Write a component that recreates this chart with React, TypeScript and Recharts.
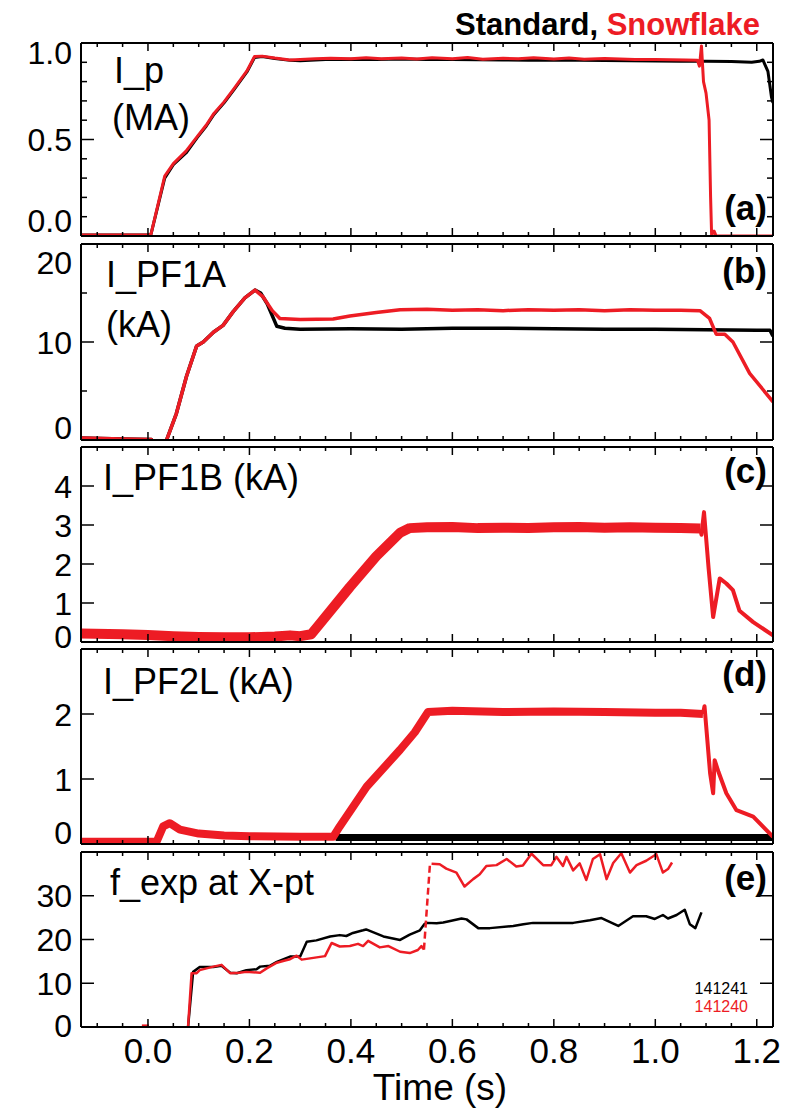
import React from "react";
import { LineChart, Line, XAxis, YAxis } from "recharts";

const FONT = "'Liberation Sans', Arial, Helvetica, sans-serif";
const RED = "#ED1C24";
const BLACK = "#000000";

// shared time axis
const X_DOMAIN: [number, number] = [-0.132, 1.232];
const xTicks = [-0.1, -0.05, 0, 0.05, 0.1, 0.15, 0.2, 0.25, 0.3, 0.35, 0.4, 0.45, 0.5, 0.55, 0.6, 0.65, 0.7, 0.75, 0.8, 0.85, 0.9, 0.95, 1.0, 1.05, 1.1, 1.15, 1.2];
const xTickLabels: Record<string, string> = { "0": "0.0", "0.2": "0.2", "0.4": "0.4", "0.6": "0.6", "0.8": "0.8", "1": "1.0", "1.2": "1.2" };

// (a) I_p (MA)
const ipStd = [[-0.132, 0.005], [0.0, 0.005], [0.006, 0.01], [0.033, 0.3], [0.05, 0.37], [0.075, 0.43], [0.097, 0.51], [0.115, 0.57], [0.13, 0.63], [0.15, 0.69], [0.17, 0.76], [0.195, 0.85], [0.21, 0.925], [0.225, 0.93], [0.25, 0.92], [0.28, 0.91], [0.3, 0.908], [0.35, 0.914], [0.4, 0.916], [0.45, 0.914], [0.5, 0.917], [0.55, 0.915], [0.6, 0.914], [0.65, 0.913], [0.7, 0.912], [0.75, 0.911], [0.8, 0.91], [0.85, 0.91], [0.9, 0.909], [0.95, 0.908], [1.0, 0.907], [1.05, 0.905], [1.1, 0.905], [1.15, 0.904], [1.19, 0.9], [1.205, 0.905], [1.212, 0.912], [1.222, 0.853], [1.229, 0.72], [1.232, 0.69]];
const ipSnow = [[-0.132, 0.005], [0.0, 0.005], [0.006, 0.01], [0.033, 0.31], [0.05, 0.375], [0.075, 0.44], [0.097, 0.515], [0.115, 0.575], [0.13, 0.635], [0.15, 0.695], [0.17, 0.765], [0.195, 0.855], [0.21, 0.93], [0.225, 0.932], [0.25, 0.922], [0.28, 0.912], [0.3, 0.915], [0.33, 0.918], [0.36, 0.921], [0.4, 0.919], [0.43, 0.924], [0.46, 0.918], [0.5, 0.922], [0.53, 0.917], [0.56, 0.923], [0.6, 0.918], [0.63, 0.925], [0.66, 0.916], [0.7, 0.921], [0.73, 0.918], [0.76, 0.924], [0.8, 0.917], [0.83, 0.922], [0.86, 0.916], [0.9, 0.92], [0.93, 0.917], [0.96, 0.915], [1.0, 0.914], [1.03, 0.913], [1.06, 0.912], [1.083, 0.91], [1.087, 0.88], [1.091, 0.985], [1.095, 0.8], [1.1, 0.74], [1.106, 0.6], [1.109, 0.2], [1.111, 0.005], [1.116, 0.025], [1.12, 0.0], [1.232, 0.0]];

// (b) I_PF1A (kA)
const pf1aStd = [[-0.132, 0.2], [-0.05, 0.1], [0.007, 0.05], [0.012, -1.5], [0.032, -1.5], [0.037, 0.05], [0.056, 2.7], [0.076, 6.5], [0.096, 9.6], [0.109, 10.0], [0.129, 11.0], [0.148, 11.7], [0.168, 13.1], [0.191, 14.5], [0.211, 15.3], [0.222, 15.0], [0.235, 13.9], [0.254, 11.6], [0.27, 11.4], [0.3, 11.3], [0.4, 11.35], [0.5, 11.3], [0.6, 11.4], [0.7, 11.4], [0.8, 11.35], [0.9, 11.3], [1.0, 11.3], [1.1, 11.25], [1.2, 11.2], [1.226, 11.2], [1.232, 10.6]];
const pf1aSnow = [[-0.132, 0.2], [-0.05, 0.1], [0.007, 0.05], [0.012, -1.5], [0.032, -1.5], [0.037, 0.05], [0.056, 2.7], [0.076, 6.5], [0.096, 9.6], [0.109, 10.0], [0.129, 11.0], [0.148, 11.7], [0.168, 13.1], [0.191, 14.5], [0.211, 15.3], [0.227, 14.6], [0.245, 13.2], [0.26, 12.4], [0.3, 12.3], [0.365, 12.35], [0.398, 12.65], [0.45, 13.0], [0.497, 13.3], [0.55, 13.35], [0.6, 13.25], [0.65, 13.3], [0.7, 13.2], [0.75, 13.3], [0.8, 13.25], [0.85, 13.3], [0.9, 13.2], [0.95, 13.3], [1.0, 13.25], [1.05, 13.25], [1.088, 13.2], [1.107, 12.4], [1.12, 10.8], [1.137, 10.8], [1.153, 10.0], [1.186, 6.8], [1.232, 3.9]];

// (c) I_PF1B (kA)
const pf1bSnow = [[-0.132, 0.22], [-0.05, 0.2], [0.0, 0.18], [0.05, 0.15], [0.1, 0.13], [0.15, 0.12], [0.2, 0.12], [0.25, 0.14], [0.28, 0.17], [0.3, 0.15], [0.322, 0.2], [0.339, 0.47], [0.398, 1.41], [0.45, 2.2], [0.497, 2.8], [0.516, 2.92], [0.55, 2.94], [0.6, 2.95], [0.65, 2.92], [0.7, 2.93], [0.75, 2.92], [0.8, 2.94], [0.85, 2.95], [0.9, 2.93], [0.95, 2.94], [1.0, 2.93], [1.05, 2.92], [1.089, 2.91]];
const pf1bSnowEnd = [[1.089, 2.91], [1.091, 2.75], [1.096, 3.33], [1.105, 1.9], [1.114, 0.64], [1.127, 1.63], [1.14, 1.5], [1.153, 1.33], [1.166, 0.8], [1.193, 0.51], [1.232, 0.17]];

// (d) I_PF2L (kA)
const pf2lStdEarly = [[-0.132, 0.03], [0.017, 0.03], [0.03, 0.3], [0.045, 0.33], [0.065, 0.22], [0.1, 0.16], [0.2, 0.13], [0.3, 0.11], [0.37, 0.1]];
const pf2lStdLate = [[0.37, 0.1], [0.5, 0.1], [0.7, 0.1], [0.9, 0.1], [1.1, 0.1], [1.232, 0.1]];
const pf2lSnow = [[-0.132, 0.035], [0.017, 0.035], [0.03, 0.27], [0.043, 0.32], [0.063, 0.22], [0.1, 0.16], [0.15, 0.13], [0.2, 0.12], [0.3, 0.11], [0.365, 0.11], [0.378, 0.27], [0.431, 0.88], [0.497, 1.45], [0.526, 1.72], [0.552, 2.03], [0.6, 2.05], [0.7, 2.03], [0.8, 2.04], [0.9, 2.03], [1.0, 2.02], [1.05, 2.02], [1.094, 2.0]];
const pf2lSnowEnd = [[1.094, 2.0], [1.097, 2.12], [1.108, 1.09], [1.114, 0.78], [1.117, 1.29], [1.125, 1.1], [1.14, 0.78], [1.16, 0.52], [1.193, 0.42], [1.232, 0.11]];

// (e) f_exp at X-pt
const fexpStd = [[0.079, 0], [0.089, 12.6], [0.102, 13.7], [0.129, 13.7], [0.145, 14.0], [0.162, 12.4], [0.175, 12.3], [0.194, 13.0], [0.214, 13.2], [0.221, 13.8], [0.24, 14.0], [0.254, 14.9], [0.28, 16.1], [0.3, 16.1], [0.313, 19.5], [0.332, 19.8], [0.359, 20.7], [0.378, 21.0], [0.391, 20.8], [0.404, 21.5], [0.424, 22.1], [0.43, 22.3], [0.464, 20.7], [0.497, 19.9], [0.516, 21.1], [0.536, 22.1], [0.544, 23.4], [0.549, 23.8], [0.569, 23.7], [0.582, 23.9], [0.598, 24.3], [0.618, 24.8], [0.628, 24.6], [0.651, 22.6], [0.674, 22.6], [0.72, 23.1], [0.74, 23.5], [0.759, 23.8], [0.798, 23.8], [0.838, 23.8], [0.871, 24.4], [0.894, 24.9], [0.927, 23.1], [0.956, 25.3], [0.982, 25.3], [0.999, 24.7], [1.015, 25.6], [1.025, 24.8], [1.042, 25.6], [1.058, 26.8], [1.068, 23.5], [1.079, 22.6], [1.091, 26.2]];
const fexpSnowDot = [[-0.012, 0.25], [0.002, 0.25]];
const fexpSnowA = [[0.079, 0], [0.086, 12.3], [0.096, 12.3], [0.102, 13.0], [0.129, 13.8], [0.145, 14.2], [0.162, 12.3], [0.18, 12.4], [0.194, 12.6], [0.221, 12.4], [0.234, 13.4], [0.254, 14.7], [0.27, 15.2], [0.28, 15.5], [0.293, 16.3], [0.303, 15.4], [0.326, 15.8], [0.349, 16.2], [0.362, 19.2], [0.378, 18.4], [0.398, 18.5], [0.414, 19.0], [0.424, 18.5], [0.434, 19.7], [0.457, 18.2], [0.474, 18.5], [0.497, 17.2], [0.516, 16.9], [0.532, 17.6], [0.539, 18.5], [0.544, 17.7]];
const fexpSnowJump = [[0.544, 17.7], [0.556, 37.5]];
const fexpSnowB = [[0.559, 37.3], [0.575, 37.2], [0.588, 36.2], [0.608, 35.3], [0.624, 32.1], [0.641, 33.8], [0.654, 34.9], [0.667, 36.8], [0.687, 37.0], [0.707, 38.4], [0.726, 36.7], [0.739, 36.9], [0.756, 39.6], [0.779, 37.0], [0.795, 37.0], [0.805, 38.9], [0.818, 36.8], [0.825, 38.9], [0.838, 35.8], [0.851, 37.4], [0.864, 33.6], [0.877, 38.4], [0.891, 39.5], [0.904, 33.8], [0.917, 37.5], [0.933, 39.7], [0.95, 35.3], [0.963, 37.0], [0.982, 38.0], [1.002, 39.5], [1.015, 35.3], [1.025, 36.1], [1.033, 37.6]];

// y ticks per panel
const ticksA = [0, 0.1, 0.2, 0.3, 0.4, 0.5, 0.6, 0.7, 0.8, 0.9, 1.0];
const labelsA: Record<string, string> = { "0": "0.0", "0.5": "0.5", "1": "1.0" };
const ticksB = [0, 5, 10, 15, 20];
const labelsB: Record<string, string> = { "0": "0", "10": "10", "20": "20" };
const ticksC = [0, 1, 2, 3, 4, 5];
const labelsC: Record<string, string> = { "0": "0", "1": "1", "2": "2", "3": "3", "4": "4" };
const ticksD = [0, 1, 2, 3];
const labelsD: Record<string, string> = { "0": "0", "1": "1", "2": "2" };
const ticksE = [0, 10, 20, 30, 40];
const labelsE: Record<string, string> = { "0": "0", "10": "10", "20": "20", "30": "30" };

const toRows = (arr: number[][]) => arr.map(([t, v]) => ({ t, v }));

function makeYTick(side: "left" | "right", labels: Record<string, string>, shifts: Record<string, number>) {
  return (props: any) => {
    const { x, y, payload } = props;
    const key = String(payload.value);
    const label = labels[key];
    const len = label !== undefined ? 13 : 6;
    const dir = side === "left" ? 1 : -1;
    return (
      <g>
        <line x1={x} y1={y} x2={x + dir * len} y2={y} stroke={BLACK} strokeWidth={1.5} />
        {side === "left" && label !== undefined ? (
          <text x={x - 9} y={y + (shifts[key] || 0) + 11.5} textAnchor="end" fontSize={32} fontFamily={FONT} fill={BLACK}>
            {label}
          </text>
        ) : null}
      </g>
    );
  };
}

function makeXTick(side: "top" | "bottom", showLabels: boolean) {
  return (props: any) => {
    const { x, y, payload } = props;
    const key = String(payload.value);
    const label = xTickLabels[key];
    const len = label !== undefined ? 8 : 4;
    const dir = side === "bottom" ? -1 : 1;
    return (
      <g>
        <line x1={x} y1={y} x2={x} y2={y + dir * len} stroke={BLACK} strokeWidth={1.5} />
        {showLabels && label !== undefined ? (
          <text x={x} y={y + 36} textAnchor="middle" fontSize={35} fontFamily={FONT} fill={BLACK}>
            {label}
          </text>
        ) : null}
      </g>
    );
  };
}

type Series = { data: number[][]; color: string; width: number; dash?: string };

function Panel(props: {
  top: number;
  bottom: number;
  domain: [number, number];
  yTicks: number[];
  yLabels: Record<string, string>;
  shifts: Record<string, number>;
  series: Series[];
  xLabels?: boolean;
}) {
  const { top, bottom, domain, yTicks, yLabels, shifts, series, xLabels } = props;
  const pad = 20;
  const extra = xLabels ? 45 : 0;
  const h = bottom - top;
  const axisLine = { stroke: BLACK, strokeWidth: 2 };
  return (
    <div style={{ position: "absolute", left: 0, top: top - pad }}>
      <LineChart width={802} height={h + 2 * pad + extra} margin={{ top: pad - 1, right: 0, bottom: pad + extra - 1, left: 0 }}>
        <XAxis xAxisId="b" dataKey="t" type="number" domain={X_DOMAIN} allowDataOverflow ticks={xTicks} interval={0} height={1} tickSize={0} tickMargin={0} tickLine={false} axisLine={axisLine} tick={makeXTick("bottom", !!xLabels)} />
        <XAxis xAxisId="t" orientation="top" dataKey="t" type="number" domain={X_DOMAIN} allowDataOverflow ticks={xTicks} interval={0} height={1} tickSize={0} tickMargin={0} tickLine={false} axisLine={axisLine} tick={makeXTick("top", false)} />
        <YAxis yAxisId="l" type="number" domain={domain} allowDataOverflow ticks={yTicks} interval={0} width={81} tickSize={0} tickMargin={0} tickLine={false} axisLine={axisLine} tick={makeYTick("left", yLabels, shifts)} />
        <YAxis yAxisId="r" orientation="right" type="number" domain={domain} allowDataOverflow ticks={yTicks} interval={0} width={29} tickSize={0} tickMargin={0} tickLine={false} axisLine={axisLine} tick={makeYTick("right", yLabels, shifts)} />
        {series.map((s, i) => (
          <Line
            key={i}
            xAxisId="b"
            yAxisId="l"
            data={toRows(s.data)}
            dataKey="v"
            type="linear"
            stroke={s.color}
            strokeWidth={s.width}
            strokeDasharray={s.dash}
            strokeLinejoin="round"
            dot={false}
            activeDot={false}
            isAnimationActive={false}
          />
        ))}
      </LineChart>
    </div>
  );
}

export default function App() {
  const txt = { fontFamily: FONT, fill: BLACK } as const;
  return (
    <div style={{ position: "absolute", left: 0, top: 0, width: 802, height: 1110, background: "#fff", overflow: "hidden" }}>
      <Panel top={43} bottom={236} domain={[0, 1]} yTicks={ticksA} yLabels={labelsA} shifts={{ "1": 9, "0": -16 }}
        series={[{ data: ipStd, color: BLACK, width: 3 }, { data: ipSnow, color: RED, width: 3 }]} />
      <Panel top={244} bottom={440} domain={[0, 20]} yTicks={ticksB} yLabels={labelsB} shifts={{ "20": 18, "0": -13 }}
        series={[{ data: pf1aStd, color: BLACK, width: 3.5 }, { data: pf1aSnow, color: RED, width: 3.5 }]} />
      <Panel top={447} bottom={642} domain={[0, 5]} yTicks={ticksC} yLabels={labelsC} shifts={{ "0": -6 }}
        series={[{ data: pf1bSnow, color: RED, width: 10 }, { data: pf1bSnowEnd, color: RED, width: 4 }]} />
      <Panel top={649} bottom={844} domain={[0, 3]} yTicks={ticksD} yLabels={labelsD} shifts={{ "0": -12 }}
        series={[
          { data: pf2lStdEarly, color: BLACK, width: 3 },
          { data: pf2lStdLate, color: BLACK, width: 7 },
          { data: pf2lSnow, color: RED, width: 8 },
          { data: pf2lSnowEnd, color: RED, width: 4 },
        ]} />
      <Panel top={852} bottom={1027} domain={[0, 40]} yTicks={ticksE} yLabels={labelsE} shifts={{ "0": -2 }} xLabels
        series={[
          { data: fexpStd, color: BLACK, width: 2.5 },
          { data: fexpSnowDot, color: RED, width: 3 },
          { data: fexpSnowA, color: RED, width: 2.5 },
          { data: fexpSnowJump, color: RED, width: 2.5, dash: "7 4" },
          { data: fexpSnowB, color: RED, width: 2.5 },
        ]} />
      <svg width={802} height={1110} style={{ position: "absolute", left: 0, top: 0, pointerEvents: "none" }}>
        <text x={760} y={35} textAnchor="end" fontSize={31} fontWeight="bold" fontFamily={FONT}>
          <tspan fill={BLACK}>Standard, </tspan>
          <tspan fill={RED}>Snowflake</tspan>
        </text>
        <text x={114} y={83} fontSize={36} {...txt}>I_p</text>
        <text x={112} y={130} fontSize={36} {...txt}>(MA)</text>
        <text x={106} y={287} fontSize={36} {...txt}>I_PF1A</text>
        <text x={106} y={337} fontSize={36} {...txt}>(kA)</text>
        <text x={103} y={490} fontSize={36} {...txt}>I_PF1B (kA)</text>
        <text x={103} y={694} fontSize={36} {...txt}>I_PF2L (kA)</text>
        <text x={110} y={895} fontSize={36} {...txt}>f_exp at X-pt</text>
        <text x={767} y={220} fontSize={35} fontWeight="bold" textAnchor="end" {...txt}>(a)</text>
        <text x={767} y={283} fontSize={35} fontWeight="bold" textAnchor="end" {...txt}>(b)</text>
        <text x={767} y={483} fontSize={35} fontWeight="bold" textAnchor="end" {...txt}>(c)</text>
        <text x={767} y={686} fontSize={35} fontWeight="bold" textAnchor="end" {...txt}>(d)</text>
        <text x={767} y={890} fontSize={35} fontWeight="bold" textAnchor="end" {...txt}>(e)</text>
        <text x={748} y={994} fontSize={16} textAnchor="end" fontFamily={FONT} fill={BLACK}>141241</text>
        <text x={748} y={1012} fontSize={16} textAnchor="end" fontFamily={FONT} fill={RED}>141240</text>
        <text x={440} y={1100} fontSize={37} textAnchor="middle" {...txt}>Time (s)</text>
      </svg>
    </div>
  );
}
